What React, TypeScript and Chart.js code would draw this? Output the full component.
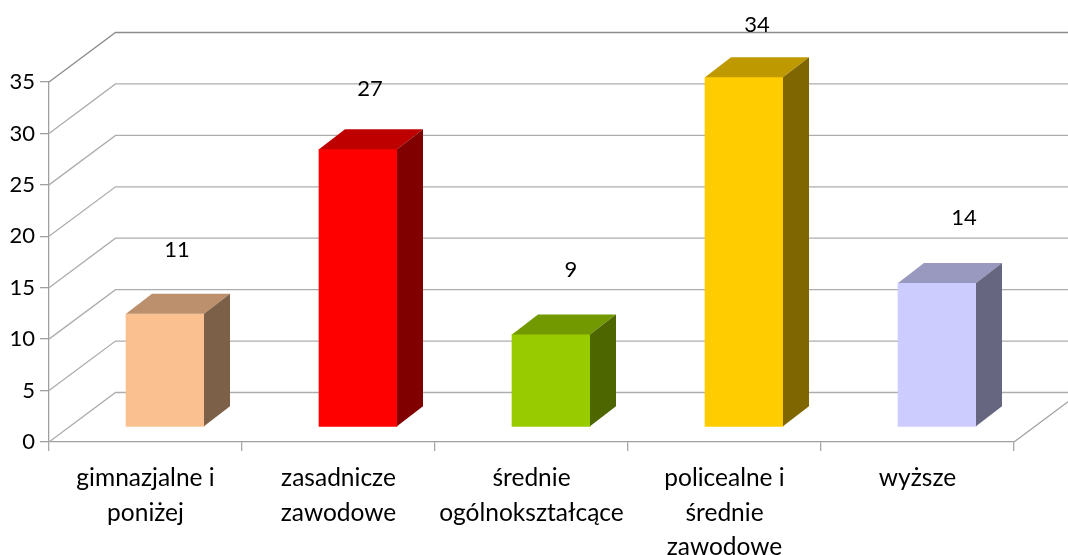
import React, { useEffect, useRef } from "react";
import { Chart, registerables } from "chart.js";

Chart.register(...registerables);

const categories = [
  ["gimnazjalne i", "poniżej"],
  ["zasadnicze", "zawodowe"],
  ["średnie", "ogólnokształcące"],
  ["policealne i", "średnie", "zawodowe"],
  ["wyższe"],
];
const values = [11, 27, 9, 34, 14];
const barColors = ["#FAC090", "#FF0000", "#99CC00", "#FFCC00", "#CCCCFF"];
const yTicks = { min: 0, max: 35, step: 5 };

const FONT = "Lato, Carlito, Calibri, sans-serif";
const NUM_SIZE = 22;
const LABEL_SIZE = 24.5;
const WALL_DX = 66.5;
const WALL_DY = 49.5;
const BAR_DX = 19.5;
const BAR_DY = 15;
const BAR_DEPTH_X = 26;
const BAR_DEPTH_Y = 20;
const labelShift = [
  [12, 64],
  [12, 60],
  [20, 65],
  [13, 52],
  [27, 65],
];

function shade(hex: string, f: number) {
  const n = parseInt(hex.slice(1), 16);
  const c = [(n >> 16) & 255, (n >> 8) & 255, n & 255].map((v) => Math.round(v * f));
  return `rgb(${c[0]},${c[1]},${c[2]})`;
}

const scene3d = {
  id: "scene3d",
  beforeDatasetsDraw(chart: any) {
    const { ctx, chartArea: a, scales } = chart;
    const y = scales.y;
    ctx.save();
    ctx.lineWidth = 1.3;
    for (let v = yTicks.min; v <= yTicks.max; v += yTicks.step) {
      const py = y.getPixelForValue(v);
      ctx.strokeStyle = v === yTicks.max ? "#8c8c8c" : "#adadad";
      ctx.beginPath();
      ctx.moveTo(a.left, py);
      ctx.lineTo(a.left + WALL_DX, py - WALL_DY);
      ctx.lineTo(a.right + WALL_DX, py - WALL_DY);
      ctx.stroke();
    }
    ctx.strokeStyle = "#a0a0a0";
    ctx.beginPath();
    ctx.moveTo(a.right, a.bottom);
    ctx.lineTo(a.right + WALL_DX, a.bottom - WALL_DY);
    ctx.stroke();
    ctx.restore();
    ctx.save();
    ctx.translate(BAR_DX, -BAR_DY);
  },
  afterDatasetsDraw(chart: any) {
    const { ctx } = chart;
    const meta = chart.getDatasetMeta(0);
    meta.data.forEach((bar: any, i: number) => {
      const left = bar.x - bar.width / 2;
      const right = bar.x + bar.width / 2;
      const top = bar.y;
      const base = bar.base;
      ctx.fillStyle = shade(barColors[i], 0.75);
      ctx.beginPath();
      ctx.moveTo(left, top);
      ctx.lineTo(left + BAR_DEPTH_X, top - BAR_DEPTH_Y);
      ctx.lineTo(right + BAR_DEPTH_X, top - BAR_DEPTH_Y);
      ctx.lineTo(right, top);
      ctx.closePath();
      ctx.fill();
      ctx.fillStyle = shade(barColors[i], 0.5);
      ctx.beginPath();
      ctx.moveTo(right, top);
      ctx.lineTo(right + BAR_DEPTH_X, top - BAR_DEPTH_Y);
      ctx.lineTo(right + BAR_DEPTH_X, base - BAR_DEPTH_Y);
      ctx.lineTo(right, base);
      ctx.closePath();
      ctx.fill();
    });
    ctx.restore();
    ctx.save();
    ctx.fillStyle = "#000";
    ctx.font = `${NUM_SIZE}px ${FONT}`;
    ctx.textAlign = "center";
    ctx.textBaseline = "middle";
    meta.data.forEach((bar: any, i: number) => {
      const [sx, sy] = labelShift[i];
      ctx.fillText(String(values[i]), bar.x + BAR_DX + sx, bar.y - BAR_DY - sy);
    });
    ctx.restore();
  },
};

export default function App() {
  const ref = useRef<HTMLCanvasElement>(null);
  useEffect(() => {
    const chart = new Chart(ref.current!, {
      type: "bar",
      data: {
        labels: categories as any,
        datasets: [
          {
            data: values,
            backgroundColor: barColors,
            borderWidth: 0,
            barThickness: 78,
            clip: false,
          } as any,
        ],
      },
      plugins: [scene3d],
      options: {
        responsive: false,
        animation: false,
        layout: { padding: { top: 82, right: 54, left: 0, bottom: 0 } },
        plugins: { legend: { display: false }, tooltip: { enabled: false } },
        scales: {
          x: {
            grid: { drawOnChartArea: false, color: "#a8a8a8", tickLength: 9, lineWidth: 1.3 },
            border: { color: "#a0a0a0", width: 1.3 },
            ticks: {
              color: "#000",
              padding: 10,
              maxRotation: 0,
              autoSkip: false,
              font: { family: FONT, size: LABEL_SIZE, lineHeight: 1.41 },
            },
            afterFit: (s: any) => {
              s.height = 113;
            },
          },
          y: {
            min: yTicks.min,
            max: yTicks.max,
            grid: { drawOnChartArea: false, color: "#a0a0a0", tickLength: 9, lineWidth: 1.3 },
            border: { color: "#a0a0a0", width: 1.3 },
            ticks: {
              stepSize: yTicks.step,
              color: "#000",
              padding: 5,
              font: { family: FONT, size: NUM_SIZE },
            },
            afterFit: (s: any) => {
              s.width = 49;
            },
          },
        },
      },
    });
    return () => chart.destroy();
  }, []);
  return (
    <div style={{ position: "fixed", left: 0, top: 0, width: 1068, height: 555, background: "#fff" }}>
      <canvas ref={ref} width={1068} height={555} style={{ display: "block" }} />
    </div>
  );
}
